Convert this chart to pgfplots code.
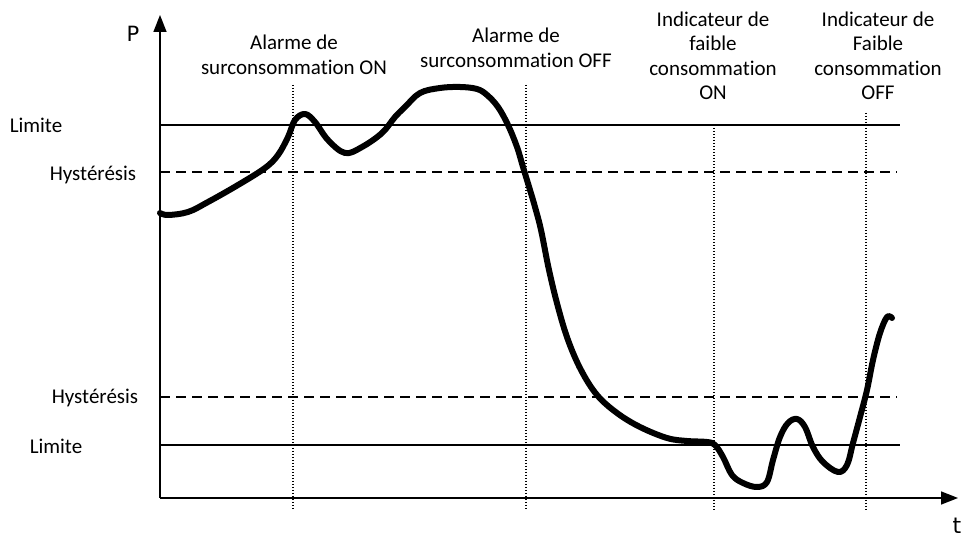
\documentclass[border=0pt]{standalone}
\usepackage{pgfplots}
\pgfplotsset{compat=1.18}
\usepackage{fontspec}
\setmainfont{Carlito}[Ligatures={NoCommon}]
\newfontfamily\dejavu{DejaVu Sans}
\usetikzlibrary{arrows.meta}
\tikzset{lbl/.style={font=\fontsize{21}{24.5}\selectfont, inner sep=0pt}}
\begin{document}
\begin{tikzpicture}
\begin{axis}[
  x=1pt, y=1pt,
  xmin=0, xmax=963, ymin=0, ymax=540,
  hide axis, clip=false,
]
% frame that fixes the picture's extent
\addplot[draw=none, mark=none] coordinates {(0,0) (963,540)};
% axes
\addplot[black, line width=1.6pt, -{Triangle[length=17pt,width=13pt]}] coordinates {(160,42) (160,525)};
\addplot[black, line width=1.6pt, -{Triangle[length=17pt,width=13pt]}] coordinates {(160,42) (958,42)};
% thresholds
\addplot[black, line width=1.6pt] coordinates {(160,415) (900,415)};
\addplot[black, line width=1.6pt, dash pattern=on 10pt off 6pt] coordinates {(160,368) (897,368)};
\addplot[black, line width=1.6pt, dash pattern=on 10pt off 6pt] coordinates {(160,143) (897,143)};
\addplot[black, line width=1.6pt] coordinates {(160,95) (900,95)};
% event lines
\addplot[black, line width=1.3pt, dash pattern=on 1.3pt off 1.7pt] coordinates {(293,455) (293,30)};
\addplot[black, line width=1.3pt, dash pattern=on 1.3pt off 1.7pt] coordinates {(526,455) (526,30)};
\addplot[black, line width=1.3pt, dash pattern=on 1.3pt off 1.7pt] coordinates {(714,415) (714,30)};
\addplot[black, line width=1.3pt, dash pattern=on 1.3pt off 1.7pt] coordinates {(866,427) (866,30)};
% power curve
\addplot[black, line width=6pt, smooth, tension=0.6, line join=round, line cap=round] coordinates {
(160,327) (168,325) (188,328) (208,338) (238,355) (265,372) (278,385) (288,403)
(295,420) (305,426) (315,418) (328,400) (345,387) (362,393) (382,407) (395,423)
(405,433) (420,447) (440,452) (460,453) (477,451) (487,445) (498,433) (508,415)
(517,393) (523,373) (530,350) (535,333) (541,310) (549,270) (558,233) (568,200)
(581,170) (597,145) (617,127) (640,113) (667,102) (687,99) (707,98) (715,95)
(723,83) (732,65) (743,57) (757,53) (767,58) (773,80) (780,103) (788,117)
(797,121) (805,113) (813,93) (823,78) (838,68) (847,75) (853,97) (860,123)
(867,150) (873,180) (880,207) (887,223) (892,222)
};
% labels
\node[inner sep=0pt, font=\dejavu\fontsize{21}{24}\selectfont] at (axis cs:133,506) {P};
\node[inner sep=0pt, font=\dejavu\fontsize{22}{24}\selectfont] at (axis cs:957,14) {t};
\node[lbl] at (axis cs:36,415) {Limite};
\node[lbl] at (axis cs:93,365) {Hystérésis};
\node[lbl] at (axis cs:95,142) {Hystérésis};
\node[lbl] at (axis cs:56,94) {Limite};
\node[lbl, align=center] at (axis cs:294,485) {Alarme de\\surconsommation ON};
\node[lbl, align=center] at (axis cs:516,492) {Alarme de\\surconsommation OFF};
\node[lbl, align=center] at (axis cs:713,484) {Indicateur de\\faible\\consommation\\ON};
\node[lbl, align=center] at (axis cs:878,484) {Indicateur de\\Faible\\consommation\\OFF};
\end{axis}
\end{tikzpicture}
\end{document}
